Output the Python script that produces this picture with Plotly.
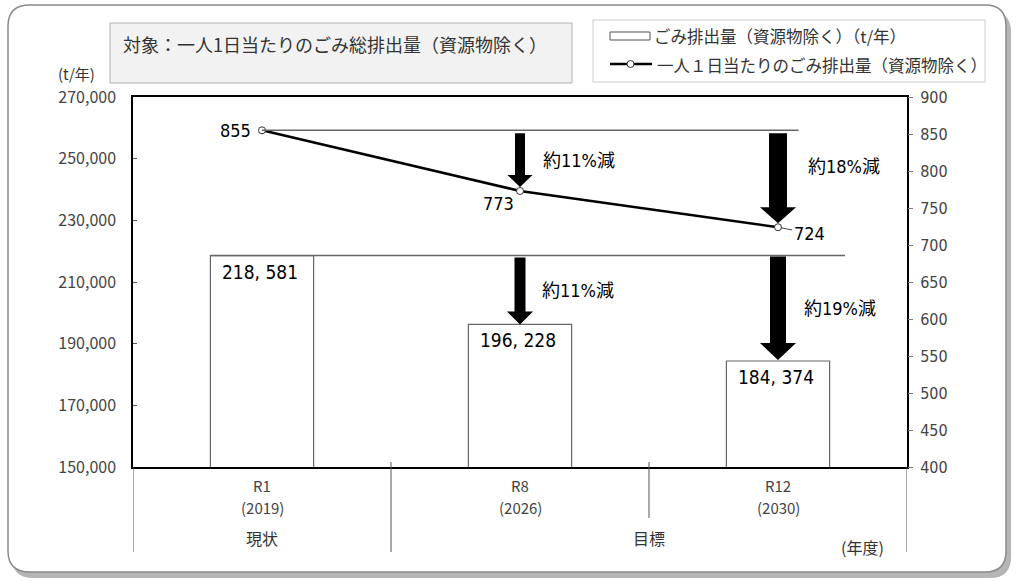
import plotly.graph_objects as go

# data
cat_codes = ["R1", "R8", "R12"]
cat_years = ["(2019)", "(2026)", "(2030)"]
groups = ["現状", "目標"]
group_pos = [0, 1.5]
bar_values = [218581, 196228, 184374]
line_values = [855, 773, 724]
bar_cut_labels = ["約11%減", "約19%減"]
line_cut_labels = ["約11%減", "約18%減"]

CJK = "Noto Sans CJK JP"
NARROW = "DejaVu Sans Condensed, Liberation Sans Narrow, Noto Sans CJK JP"

# plot area in pixels
L, R, T, B = 133, 907, 97, 467
W, H = 1017, 581
Y_RANGE = [150000, 270000]
Y2_RANGE = [400, 900]
X_PER_PX = 3 / (R - L)
Y_PER_PX = (Y_RANGE[1] - Y_RANGE[0]) / (B - T)
Y2_PER_PX = (Y2_RANGE[1] - Y2_RANGE[0]) / (B - T)


def px(x):
    return (x - L) / (R - L)


def py(y):
    return (B - y) / (B - T)


def arrow(x, top, tip, shaft, head, head_len, yref, per_px):
    s = shaft / 2 * X_PER_PX
    h = head / 2 * X_PER_PX
    neck = tip + head_len * per_px
    path = (f"M {x - s},{top} L {x + s},{top} L {x + s},{neck} L {x + h},{neck} "
            f"L {x},{tip} L {x - h},{neck} L {x - s},{neck} Z")
    return dict(type="path", path=path, xref="x", yref=yref,
                fillcolor="black", line=dict(width=0))


xs = list(range(len(cat_codes)))

fig = go.Figure()

fig.add_trace(go.Bar(
    x=xs, y=bar_values, width=0.4,
    marker=dict(color="white", line=dict(color="#666", width=1.2)),
    name="ごみ排出量（資源物除く）（t/年）", showlegend=False,
))

fig.add_trace(go.Scatter(
    x=xs, y=line_values, yaxis="y2", mode="lines+markers",
    line=dict(color="black", width=2.5),
    marker=dict(symbol="circle", size=7, color="white", line=dict(color="#333", width=1)),
    name="一人１日当たりのごみ排出量（資源物除く）", showlegend=False,
))

shapes = []
annotations = []

# outer frame with shadow
shapes.append(dict(type="path", xref="paper", yref="paper",
                   path=f"M {px(33)},{py(11)} L {px(990)},{py(11)} Q {px(1011)},{py(11)} {px(1011)},{py(32)} "
                        f"L {px(1011)},{py(557)} Q {px(1011)},{py(578)} {px(990)},{py(578)} "
                        f"L {px(33)},{py(578)} Q {px(12)},{py(578)} {px(12)},{py(557)} "
                        f"L {px(12)},{py(32)} Q {px(12)},{py(11)} {px(33)},{py(11)} Z",
                   fillcolor="#b5b5b5", line=dict(width=0), layer="below"))
shapes.append(dict(type="path", xref="paper", yref="paper",
                   path=f"M {px(30)},{py(5)} L {px(985)},{py(5)} Q {px(1006)},{py(5)} {px(1006)},{py(26)} "
                        f"L {px(1006)},{py(551)} Q {px(1006)},{py(572)} {px(985)},{py(572)} "
                        f"L {px(30)},{py(572)} Q {px(8)},{py(572)} {px(8)},{py(551)} "
                        f"L {px(8)},{py(26)} Q {px(8)},{py(5)} {px(30)},{py(5)} Z",
                   fillcolor="white", line=dict(color="#8a8a8a", width=1.5), layer="below"))

# title box
shapes.append(dict(type="rect", xref="paper", yref="paper",
                   x0=px(110), x1=px(572), y0=py(23), y1=py(83),
                   fillcolor="#f2f2f2", line=dict(color="#b0b0b0", width=1)))
annotations.append(dict(text="対象：一人1日当たりのごみ総排出量（資源物除く）", xref="paper", yref="paper",
                        x=px(121), y=py(44), xanchor="left", yanchor="middle", showarrow=False,
                        font=dict(family=CJK, size=18, color="#333")))

# legend box
shapes.append(dict(type="rect", xref="paper", yref="paper",
                   x0=px(593), x1=px(985), y0=py(20), y1=py(82),
                   fillcolor="white", line=dict(color="#cccccc", width=1)))
shapes.append(dict(type="rect", xref="paper", yref="paper",
                   x0=px(610), x1=px(650), y0=py(32), y1=py(40),
                   fillcolor="white", line=dict(color="#555", width=1)))
shapes.append(dict(type="line", xref="paper", yref="paper",
                   x0=px(610), x1=px(652), y0=py(64), y1=py(64),
                   line=dict(color="black", width=2.5)))
shapes.append(dict(type="circle", xref="paper", yref="paper",
                   x0=px(627), x1=px(634), y0=py(60.5), y1=py(67.5),
                   fillcolor="white", line=dict(color="#333", width=1)))
annotations.append(dict(text=fig.data[0].name, xref="paper", yref="paper",
                        x=px(652), y=py(36), xanchor="left", yanchor="middle", showarrow=False,
                        font=dict(family=CJK, size=16.5, color="#333")))
annotations.append(dict(text=fig.data[1].name, xref="paper", yref="paper",
                        x=px(655), y=py(65), xanchor="left", yanchor="middle", showarrow=False,
                        font=dict(family=CJK, size=16.5, color="#333")))

# unit labels
annotations.append(dict(text="(t/年)", xref="paper", yref="paper",
                        x=px(76), y=py(74), xanchor="center", yanchor="middle", showarrow=False,
                        font=dict(family=CJK, size=15, color="#333")))
annotations.append(dict(text="(年度)", xref="paper", yref="paper",
                        x=px(862), y=py(547), xanchor="center", yanchor="middle", showarrow=False,
                        font=dict(family=CJK, size=16, color="#333")))

# category labels and dividers below the axis
for xv, code, year in zip(xs, cat_codes, cat_years):
    annotations.append(dict(text=code, xref="x", yref="paper", x=xv, y=py(486),
                            xanchor="center", yanchor="middle", showarrow=False,
                            font=dict(family=CJK, size=15, color="#444")))
    annotations.append(dict(text=year, xref="x", yref="paper", x=xv, y=py(507),
                            xanchor="center", yanchor="middle", showarrow=False,
                            font=dict(family=CJK, size=15, color="#444")))

dividers = [(-0.5, 467, 552), (0.5, 462, 552), (1.5, 462, 518), (2.5, 467, 552)]
for xv, y0, y1 in dividers:
    shapes.append(dict(type="line", xref="x", yref="paper", x0=xv, x1=xv,
                       y0=py(y0), y1=py(y1), line=dict(color="#555", width=1)))

for g, gx in zip(groups, group_pos):
    annotations.append(dict(text=g, xref="x", yref="paper", x=gx, y=py(538),
                            xanchor="center", yanchor="middle", showarrow=False,
                            font=dict(family=CJK, size=16, color="#333")))

# reference levels (current values)
shapes.append(dict(type="line", xref="x", yref="y2", x0=0, x1=2.08,
                   y0=line_values[0], y1=line_values[0], line=dict(color="#666", width=1.5)))
shapes.append(dict(type="line", xref="x", yref="y", x0=-0.2, x1=2.26,
                   y0=bar_values[0], y1=bar_values[0], line=dict(color="#666", width=1.5)))

# reduction arrows
shapes.append(arrow(1, line_values[0] - 3 * Y2_PER_PX, line_values[1] + 4 * Y2_PER_PX,
                    10, 25, 12, "y2", Y2_PER_PX))
shapes.append(arrow(2, line_values[0] - 3 * Y2_PER_PX, line_values[2] + 4 * Y2_PER_PX,
                    18, 36, 16, "y2", Y2_PER_PX))
shapes.append(arrow(1, bar_values[0] - 2 * Y_PER_PX, bar_values[1],
                    11, 26, 13, "y", Y_PER_PX))
shapes.append(arrow(2, bar_values[0] - 1 * Y_PER_PX, bar_values[2] + 1 * Y_PER_PX,
                    16, 36, 17, "y", Y_PER_PX))

# reduction texts
annotations.append(dict(text=line_cut_labels[0], xref="x", yref="y2", x=1,
                        y=(line_values[0] + line_values[1]) / 2, xshift=21,
                        xanchor="left", yanchor="middle", showarrow=False,
                        font=dict(family=NARROW, size=18, color="black")))
annotations.append(dict(text=line_cut_labels[1], xref="x", yref="y2", x=2,
                        y=(line_values[0] + line_values[2]) / 2, xshift=28, yshift=12,
                        xanchor="left", yanchor="middle", showarrow=False,
                        font=dict(family=NARROW, size=18, color="black")))
annotations.append(dict(text=bar_cut_labels[0], xref="x", yref="y", x=1,
                        y=(bar_values[0] + bar_values[1]) / 2, xshift=20,
                        xanchor="left", yanchor="middle", showarrow=False,
                        font=dict(family=NARROW, size=18, color="black")))
annotations.append(dict(text=bar_cut_labels[1], xref="x", yref="y", x=2,
                        y=(bar_values[0] + bar_values[2]) / 2, xshift=24,
                        xanchor="left", yanchor="middle", showarrow=False,
                        font=dict(family=NARROW, size=18, color="black")))

# bar value labels
for xv, v in zip(xs, bar_values):
    annotations.append(dict(text=f"{v:,}".replace(",", ", "), xref="x", yref="y", x=xv, y=v,
                            yshift=-16, xshift=-2, xanchor="center", yanchor="middle", showarrow=False,
                            font=dict(family=NARROW, size=19, color="black")))

# line value labels
annotations.append(dict(text=str(line_values[0]), xref="x", yref="y2", x=0, y=line_values[0],
                        xshift=-9, xanchor="right", yanchor="middle", showarrow=False,
                        font=dict(family=NARROW, size=18, color="black")))
annotations.append(dict(text=str(line_values[1]), xref="x", yref="y2", x=1, y=line_values[1],
                        xshift=-4, yshift=-13, xanchor="right", yanchor="middle", showarrow=False,
                        font=dict(family=NARROW, size=18, color="black")))
annotations.append(dict(text=str(line_values[2]), xref="x", yref="y2", x=2, y=line_values[2],
                        ax=31, ay=6, showarrow=True, arrowhead=0, arrowwidth=1, arrowcolor="#444",
                        standoff=3, xanchor="center", yanchor="middle",
                        font=dict(family=NARROW, size=18, color="black")))

fig.update_layout(
    width=W, height=H,
    margin=dict(l=L, r=W - R, t=T, b=H - B),
    paper_bgcolor="white", plot_bgcolor="white",
    bargap=0.6, showlegend=False,
    font=dict(family=CJK, color="#333"),
    xaxis=dict(range=[-0.5, 2.5], tickvals=xs, showticklabels=False, showgrid=False,
               zeroline=False, showline=True, linecolor="black", linewidth=1.5, mirror=True,
               ticks=""),
    yaxis=dict(range=Y_RANGE, tick0=Y_RANGE[0], dtick=20000, tickformat=",", showgrid=False,
               zeroline=False, showline=True, linecolor="black", linewidth=1.5, mirror=True,
               ticks="inside", ticklen=4, tickcolor="#555", ticklabelstandoff=12,
               tickfont=dict(family=CJK, size=16, color="#444")),
    yaxis2=dict(range=Y2_RANGE, dtick=50, overlaying="y", side="right", showgrid=False,
                zeroline=False, showline=False, ticks="outside", ticklen=5, tickcolor="#777",
                ticklabelstandoff=4,
                tickfont=dict(family=NARROW, size=16, color="#444")),
    shapes=shapes,
    annotations=annotations,
)

fig.write_html("out.html", config={"displayModeBar": False},
               post_script="document.body.style.margin='0';")
